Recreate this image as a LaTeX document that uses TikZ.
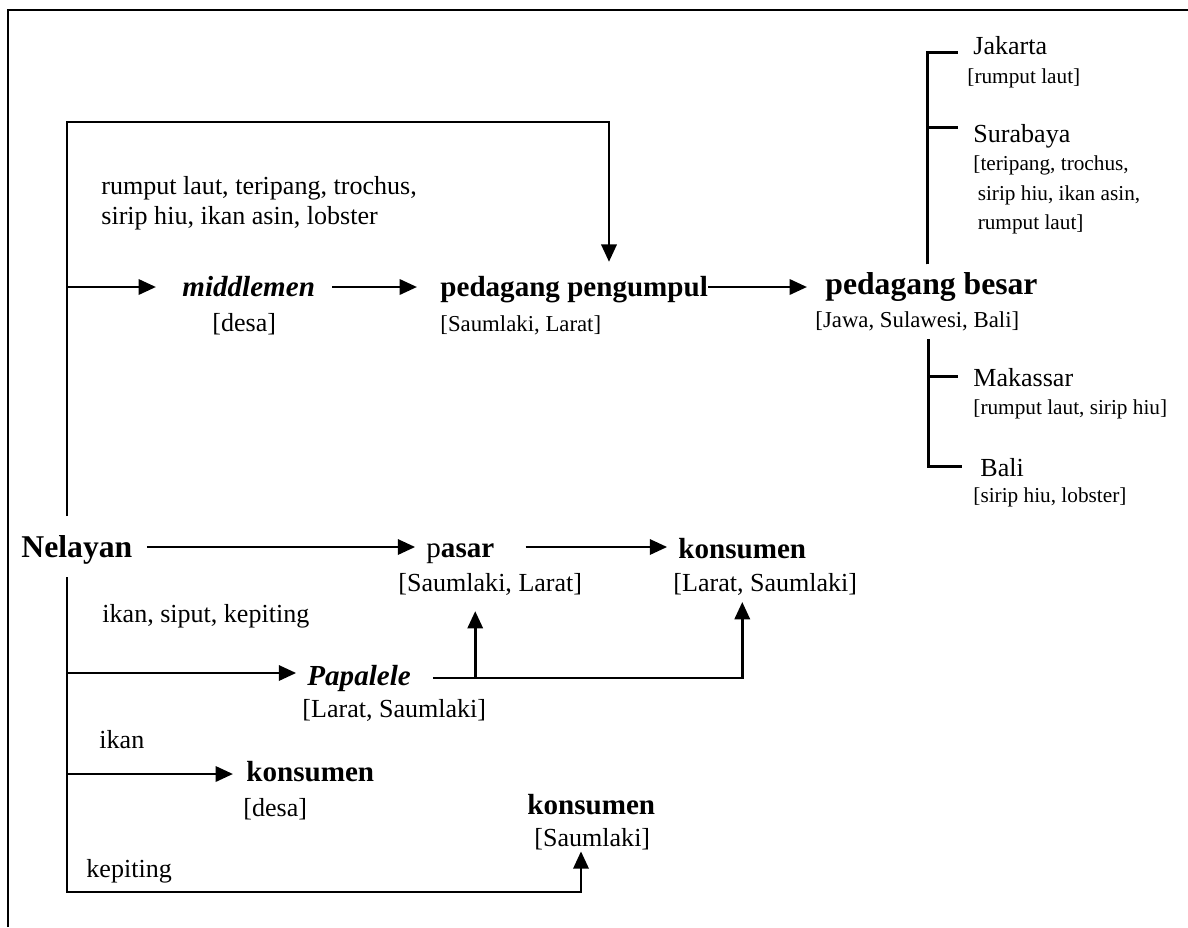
\documentclass[tikz,border=0pt]{standalone}
\usepackage{fontspec}
\setmainfont{Liberation Serif}
\usetikzlibrary{arrows.meta, calc}

\tikzset{
  every node/.style={inner sep=0pt, anchor=west, text height=0.68em, text depth=0.2em},
  txt/.style={yshift=-2pt},
  bigname/.style={txt, font=\fontsize{14.6}{16}\selectfont\bfseries},
  actor/.style={txt, font=\fontsize{13.4}{15}\selectfont\bfseries},
  actorit/.style={txt, font=\fontsize{13.4}{15}\selectfont\bfseries\itshape},
  lbl/.style={txt, font=\fontsize{12}{13.8}\selectfont},
  loc/.style={txt, font=\fontsize{10.5}{12}\selectfont},
  cityinfo/.style={txt, font=\fontsize{9.8}{13.6}\selectfont},
  multi/.style={align=left, text height={}, text depth={}},
  flow/.style={-{Triangle[length=8pt,width=7pt]}, line width=1.3pt},
  tree/.style={line width=1.3pt},
  frame/.style={line width=0.5pt}
}

\begin{document}
\begin{tikzpicture}[x=0.4608pt, y=-0.4608pt]
		\useasboundingbox (0,0) rectangle (1188,927);
		\draw[frame] (8,927) -- (8,10) -- (1188,10);

		\node[bigname] (nel) at (21,548) {Nelayan};
		\node[actorit] (mid) at (182,287) {middlemen};
		\node[lbl] (midloc) at (212,322) {[desa]};
		\node[actor] (pp) at (440,287) {pedagang pengumpul};
		\node[loc] (pploc) at (440,322) {[Saumlaki, Larat]};
		\node[bigname] (pb) at (825,285) {pedagang besar};
		\node[loc] (pbloc) at (815,318) {[Jawa, Sulawesi, Bali]};

		\node[lbl] (jak) at (973,45) {Jakarta};
		\node[cityinfo] (jakinfo) at (967,74) {[rumput laut]};
		\node[lbl] (sur) at (973,133) {Surabaya};
		\node[cityinfo, multi] (surinfo) at (973,191) {[teripang, trochus,\\\hspace{2pt}sirip hiu, ikan asin,\\\hspace{2pt}rumput laut]};
		\node[lbl] (mak) at (973,377) {Makassar};
		\node[cityinfo] (makinfo) at (973,405) {[rumput laut, sirip hiu]};
		\node[lbl] (bali) at (980,467) {Bali};
		\node[cityinfo] (baliinfo) at (973,493) {[sirip hiu, lobster]};

		\node[lbl, multi] (goods1) at (101,199) {rumput laut, teripang, trochus,\\sirip hiu, ikan asin, lobster};
		\node[actor] (pasar) at (426,548) {{\mdseries p}asar};
		\node[lbl] (pasarloc) at (398,582) {[Saumlaki, Larat]};
		\node[actor] (kons) at (678,549) {konsumen};
		\node[lbl] (konsloc) at (673,582) {[Larat, Saumlaki]};
		\node[lbl] (goods2) at (102,613) {ikan, siput, kepiting};
		\node[actorit] (pap) at (307,676) {Papalele};
		\node[lbl] (paploc) at (302,708) {[Larat, Saumlaki]};
		\node[lbl] (goods3) at (99,739) {ikan};
		\node[actor] (kdesa) at (246,772) {konsumen};
		\node[lbl] (kdesaloc) at (243,807) {[desa]};
		\node[actor] (ksaum) at (527,805) {konsumen};
		\node[lbl] (ksaumloc) at (534,837) {[Saumlaki]};
		\node[lbl] (goods4) at (86,868) {kepiting};

		\coordinate (up0) at (67,516);
		\coordinate (loopR) at (609,122);
		\coordinate (j1) at (67,287);
		\coordinate (r2) at (67,547);
		\coordinate (lo0) at (67,577);
		\coordinate (j2) at (67,673);
		\coordinate (r3) at (67,678);
		\coordinate (j3) at (67,774);
		\coordinate (sUp) at (581,892);
		\coordinate (pUp) at ($(pap.east |- r3)+(64,0)$);

		\draw[flow, shorten >=9pt] (up0) |- (loopR) -- (loopR |- pp.north);
		\draw[flow, shorten >=12pt] (j1) -- (j1 -| mid.west);
		\draw[flow, shorten <=7.8pt, shorten >=10.6pt] (mid.east |- j1) -- (pp.west |- j1);
		\draw[flow, shorten >=8.3pt] (pp.east |- j1) -- (pb.west |- j1);

		\draw[tree] ($(pb.north)+(-4,-15)$) |- ($(jak.west)+(-15,3)$);
		\draw[tree] ($(pb.north)+(-4,-15)$) |- ($(sur.west)+(-15,-10)$);
		\draw[tree] ($(pbloc.south)+(11,7)$) |- ($(mak.west)+(-15,-5)$);
		\draw[tree] ($(pbloc.south)+(11,7)$) |- ($(bali.west)+(-18,-5)$);

		\draw[flow, shorten <=6.5pt, shorten >=5pt] (nel.east |- r2) -- (pasar.west |- r2);
		\draw[flow, shorten <=14.3pt, shorten >=5pt] (pasar.east |- r2) -- (kons.west |- r2);
		\draw[flow, shorten >=5pt] (j2) -- (j2 -| pap.west);
		\draw[flow, shorten <=10pt, shorten >=2.6pt] (pap.east |- r3) -| (kons |- konsloc.south);
		\draw[flow, shorten >=6.8pt] (pUp) -- (pUp |- pasarloc.south);
		\draw[flow, shorten >=6pt] (j3) -- (j3 -| kdesa.west);
		\draw[flow] (lo0) |- (sUp) -- (sUp |- ksaumloc.south);
	\end{tikzpicture}
\end{document}
